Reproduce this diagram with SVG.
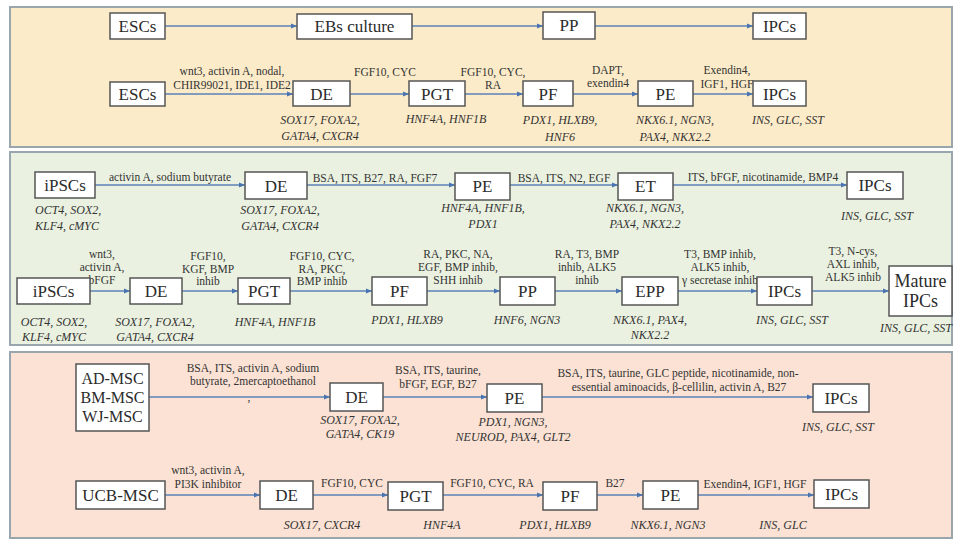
<svg xmlns="http://www.w3.org/2000/svg" width="955" height="540" viewBox="0 0 955 540" font-family="'Liberation Serif','Times New Roman',serif">
<style>
.panel{stroke:#9aa6ae;stroke-width:2}
.box rect{fill:#fff;stroke:#555;stroke-width:1.5}
.box text{font-family:'Liberation Serif','Times New Roman',serif;font-size:17px;fill:#2b2b2b;text-anchor:middle}
.lbl{font-family:'Liberation Serif','Times New Roman',serif;font-size:11.5px;fill:#333;text-anchor:middle}
.gene{font-family:'Liberation Serif','Times New Roman',serif;font-size:12px;font-style:italic;fill:#333;text-anchor:middle}
.conn line{stroke:#5b82b8;stroke-width:1.3;marker-end:url(#ah)}
</style>
<defs>
<marker id="ah" markerUnits="userSpaceOnUse" markerWidth="6" markerHeight="6" refX="6" refY="3" orient="auto">
<path d="M0,0.5 L6,3 L0,5.5 z" fill="#4a74b0"/>
</marker>
</defs>
<rect width="955" height="540" fill="#fff"/>
<rect class="panel" x="10" y="7" width="942" height="140" fill="#fcebc9"/>
<rect class="panel" x="10" y="152" width="942" height="193" fill="#eaf1e0"/>
<rect class="panel" x="10" y="352" width="942" height="186" fill="#fbe2d4"/>

<g class="conn">
<line x1="165" y1="26" x2="297" y2="26"/>
<line x1="412" y1="26" x2="543" y2="26"/>
<line x1="595" y1="26" x2="753" y2="26"/>
<line x1="165" y1="94" x2="293" y2="94"/>
<line x1="350" y1="94" x2="409" y2="94"/>
<line x1="465" y1="94" x2="523" y2="94"/>
<line x1="573" y1="94" x2="638" y2="94"/>
<line x1="693" y1="94" x2="753" y2="94"/>
<line x1="95" y1="185" x2="245" y2="185"/>
<line x1="307" y1="185" x2="455" y2="185"/>
<line x1="510" y1="185" x2="618" y2="185"/>
<line x1="673" y1="185" x2="847" y2="185"/>
<line x1="90" y1="291" x2="130" y2="291"/>
<line x1="182" y1="291" x2="238" y2="291"/>
<line x1="290" y1="291" x2="372" y2="291"/>
<line x1="427" y1="291" x2="500" y2="291"/>
<line x1="555" y1="291" x2="622" y2="291"/>
<line x1="678" y1="291" x2="757" y2="291"/>
<line x1="812" y1="291" x2="889" y2="291"/>
<line x1="149" y1="397" x2="330" y2="397"/>
<line x1="383" y1="397" x2="487" y2="397"/>
<line x1="542" y1="397" x2="813" y2="397"/>
<line x1="165" y1="495" x2="260" y2="495"/>
<line x1="313" y1="495" x2="388" y2="495"/>
<line x1="443" y1="495" x2="543" y2="495"/>
<line x1="597" y1="495" x2="643" y2="495"/>
<line x1="698" y1="495" x2="814" y2="495"/>
</g>

<g id="labels">
<text class="lbl" x="232" y="75">wnt3, activin A, nodal,</text>
<text class="lbl" x="232" y="89">CHIR99021, IDE1, IDE2</text>
<text class="lbl" x="385" y="76">FGF10, CYC</text>
<text class="lbl" x="493" y="76">FGF10, CYC,</text>
<text class="lbl" x="493" y="89">RA</text>
<text class="lbl" x="608" y="74">DAPT,</text>
<text class="lbl" x="608" y="87">exendin4</text>
<text class="lbl" x="727" y="74">Exendin4,</text>
<text class="lbl" x="727" y="88">IGF1, HGF</text>
<text class="lbl" x="170" y="181">activin A, sodium butyrate</text>
<text class="lbl" x="375" y="182">BSA, ITS, B27, RA, FGF7</text>
<text class="lbl" x="564" y="182">BSA, ITS, N2, EGF</text>
<text class="lbl" x="763" y="181">ITS, bFGF, nicotinamide,  BMP4</text>
<text class="lbl" x="102" y="258">wnt3,</text>
<text class="lbl" x="102" y="271">activin A,</text>
<text class="lbl" x="102" y="284">bFGF</text>
<text class="lbl" x="208" y="260">FGF10,</text>
<text class="lbl" x="208" y="273">KGF, BMP</text>
<text class="lbl" x="208" y="285">inhib</text>
<text class="lbl" x="322" y="260">FGF10, CYC,</text>
<text class="lbl" x="322" y="273">RA, PKC,</text>
<text class="lbl" x="322" y="285">BMP inhib</text>
<text class="lbl" x="458" y="258">RA, PKC, NA,</text>
<text class="lbl" x="458" y="271">EGF, BMP inhib,</text>
<text class="lbl" x="458" y="284">SHH inhib</text>
<text class="lbl" x="587" y="258">RA, T3, BMP</text>
<text class="lbl" x="587" y="271">inhib,  ALK5</text>
<text class="lbl" x="587" y="284">inhib</text>
<text class="lbl" x="720" y="258">T3, BMP inhib,</text>
<text class="lbl" x="720" y="271">ALK5 inhib,</text>
<text class="lbl" x="720" y="284">γ secretase  inhib</text>
<text class="lbl" x="853" y="255">T3, N-cys,</text>
<text class="lbl" x="853" y="268">AXL inhib,</text>
<text class="lbl" x="853" y="281">ALK5 inhib</text>
<text class="lbl" x="253" y="372">BSA, ITS, activin A, sodium</text>
<text class="lbl" x="253" y="385">butyrate,  2mercaptoethanol</text>
<text class="lbl" x="249" y="401">,</text>
<text class="lbl" x="438" y="374">BSA, ITS, taurine,</text>
<text class="lbl" x="438" y="388">bFGF, EGF, B27</text>
<text class="lbl" x="678" y="377">BSA, ITS, taurine,  GLC peptide, nicotinamide,  non-</text>
<text class="lbl" x="679" y="391">essential  aminoacids, β-cellilin,  activin A, B27</text>
<text class="lbl" x="208" y="474">wnt3, activin A,</text>
<text class="lbl" x="208" y="488">PI3K inhibitor</text>
<text class="lbl" x="352" y="487">FGF10, CYC</text>
<text class="lbl" x="492" y="487">FGF10, CYC, RA</text>
<text class="lbl" x="615" y="487">B27</text>
<text class="lbl" x="755" y="488">Exendin4,  IGF1, HGF</text>
</g>

<g id="genes">
<text class="gene" x="320" y="124">SOX17, FOXA2,</text>
<text class="gene" x="320" y="140">GATA4, CXCR4</text>
<text class="gene" x="446" y="123">HNF4A, HNF1B</text>
<text class="gene" x="560" y="124">PDX1, HLXB9,</text>
<text class="gene" x="560" y="141">HNF6</text>
<text class="gene" x="675" y="124">NKX6.1, NGN3,</text>
<text class="gene" x="675" y="141">PAX4, NKX2.2</text>
<text class="gene" x="788" y="124">INS, GLC, SST</text>
<text class="gene" x="35" y="214" style="text-anchor:start">OCT4, SOX2,</text>
<text class="gene" x="35" y="230" style="text-anchor:start">KLF4, cMYC</text>
<text class="gene" x="280" y="214">SOX17, FOXA2,</text>
<text class="gene" x="280" y="230">GATA4, CXCR4</text>
<text class="gene" x="483" y="212">HNF4A, HNF1B,</text>
<text class="gene" x="483" y="228">PDX1</text>
<text class="gene" x="645" y="212">NKX6.1, NGN3,</text>
<text class="gene" x="645" y="228">PAX4, NKX2.2</text>
<text class="gene" x="877" y="220">INS, GLC, SST</text>
<text class="gene" x="54" y="326">OCT4, SOX2,</text>
<text class="gene" x="54" y="341">KLF4, cMYC</text>
<text class="gene" x="155" y="326">SOX17, FOXA2,</text>
<text class="gene" x="155" y="341">GATA4, CXCR4</text>
<text class="gene" x="275" y="326">HNF4A, HNF1B</text>
<text class="gene" x="407" y="324">PDX1, HLXB9</text>
<text class="gene" x="527" y="324">HNF6, NGN3</text>
<text class="gene" x="650" y="324">NKX6.1, PAX4,</text>
<text class="gene" x="650" y="339">NKX2.2</text>
<text class="gene" x="792" y="324">INS, GLC, SST</text>
<text class="gene" x="952" y="332" style="text-anchor:end">INS, GLC, SST</text>
<text class="gene" x="360" y="424">SOX17, FOXA2,</text>
<text class="gene" x="360" y="438">GATA4, CK19</text>
<text class="gene" x="513" y="426">PDX1, NGN3,</text>
<text class="gene" x="513" y="441">NEUROD, PAX4, GLT2</text>
<text class="gene" x="838" y="431">INS, GLC, SST</text>
<text class="gene" x="322" y="529">SOX17, CXCR4</text>
<text class="gene" x="442" y="529">HNF4A</text>
<text class="gene" x="555" y="529">PDX1, HLXB9</text>
<text class="gene" x="668" y="529">NKX6.1, NGN3</text>
<text class="gene" x="783" y="529">INS, GLC</text>
</g>

<g id="n-escs1" class="box"><rect x="110" y="13" width="55" height="26"/><text x="137.5" y="32">ESCs</text></g>
<g id="n-ebs" class="box"><rect x="297" y="14" width="115" height="25"/><text x="354.5" y="32">EBs culture</text></g>
<g id="n-pp1" class="box"><rect x="543" y="12" width="52" height="27"/><text x="569" y="31">PP</text></g>
<g id="n-ipcs1" class="box"><rect x="753" y="13" width="53" height="26"/><text x="779.5" y="32">IPCs</text></g>

<g id="n-escs2" class="box"><rect x="110" y="82" width="55" height="24"/><text x="137.5" y="100">ESCs</text></g>
<g id="n-de1" class="box"><rect x="293" y="81" width="57" height="25"/><text x="321.5" y="100">DE</text></g>
<g id="n-pgt1" class="box"><rect x="409" y="81" width="56" height="25"/><text x="437" y="100">PGT</text></g>
<g id="n-pf1" class="box"><rect x="523" y="81" width="50" height="25"/><text x="548" y="100">PF</text></g>
<g id="n-pe1" class="box"><rect x="638" y="81" width="55" height="25"/><text x="665.5" y="100">PE</text></g>
<g id="n-ipcs2" class="box"><rect x="753" y="81" width="53" height="25"/><text x="779.5" y="100">IPCs</text></g>

<g id="n-ipsc1" class="box"><rect x="35" y="172" width="60" height="26"/><text x="65" y="191">iPSCs</text></g>
<g id="n-de2" class="box"><rect x="245" y="172" width="62" height="27"/><text x="276" y="192">DE</text></g>
<g id="n-pe2" class="box"><rect x="455" y="173" width="55" height="27"/><text x="482.5" y="192">PE</text></g>
<g id="n-et" class="box"><rect x="618" y="173" width="55" height="27"/><text x="645.5" y="192">ET</text></g>
<g id="n-ipcs3" class="box"><rect x="847" y="172" width="56" height="27"/><text x="875" y="191">IPCs</text></g>

<g id="n-ipsc2" class="box"><rect x="17" y="278" width="73" height="26"/><text x="53.5" y="297">iPSCs</text></g>
<g id="n-de3" class="box"><rect x="130" y="278" width="52" height="26"/><text x="156" y="297">DE</text></g>
<g id="n-pgt2" class="box"><rect x="238" y="278" width="52" height="26"/><text x="264" y="297">PGT</text></g>
<g id="n-pf2" class="box"><rect x="372" y="277" width="55" height="28"/><text x="399.5" y="297">PF</text></g>
<g id="n-pp2" class="box"><rect x="500" y="277" width="55" height="28"/><text x="527.5" y="297">PP</text></g>
<g id="n-epp" class="box"><rect x="622" y="277" width="56" height="28"/><text x="650" y="297">EPP</text></g>
<g id="n-ipcs4" class="box"><rect x="757" y="277" width="55" height="28"/><text x="784.5" y="297">IPCs</text></g>
<g id="n-mature" class="box"><rect x="889" y="266" width="63" height="50"/><text x="920.5" y="287" style="font-size:18px">Mature</text><text x="920.5" y="307" style="font-size:18px">IPCs</text></g>

<g id="n-msc" class="box"><rect x="76" y="364" width="73" height="67"/><text x="112.5" y="384" style="font-size:16px">AD-MSC</text><text x="112.5" y="403" style="font-size:16px">BM-MSC</text><text x="112.5" y="422" style="font-size:16px">WJ-MSC</text></g>
<g id="n-de4" class="box"><rect x="330" y="383" width="53" height="28"/><text x="356.5" y="403">DE</text></g>
<g id="n-pe3" class="box"><rect x="487" y="384" width="55" height="28"/><text x="514.5" y="404">PE</text></g>
<g id="n-ipcs5" class="box"><rect x="813" y="384" width="56" height="28"/><text x="841" y="404">IPCs</text></g>

<g id="n-ucb" class="box"><rect x="76" y="481" width="89" height="28"/><text x="120.5" y="501">UCB-MSC</text></g>
<g id="n-de5" class="box"><rect x="260" y="481" width="53" height="28"/><text x="286.5" y="501">DE</text></g>
<g id="n-pgt3" class="box"><rect x="388" y="482" width="55" height="28"/><text x="415.5" y="502">PGT</text></g>
<g id="n-pf3" class="box"><rect x="543" y="482" width="54" height="28"/><text x="570" y="502">PF</text></g>
<g id="n-pe4" class="box"><rect x="643" y="481" width="55" height="28"/><text x="670.5" y="501">PE</text></g>
<g id="n-ipcs6" class="box"><rect x="814" y="480" width="55" height="28"/><text x="841.5" y="500">IPCs</text></g>
</svg>
